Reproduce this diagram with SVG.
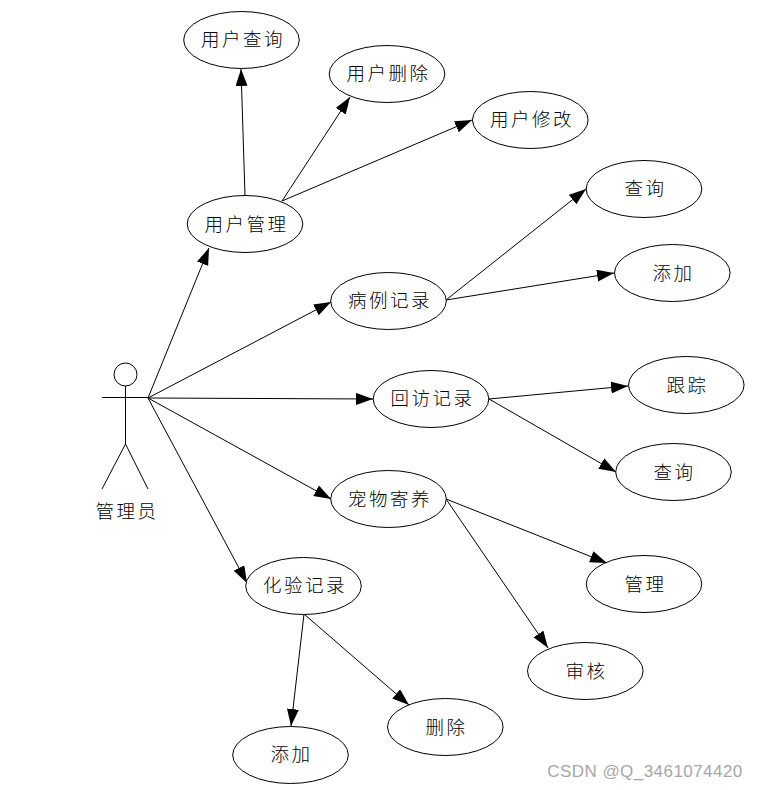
<svg xmlns="http://www.w3.org/2000/svg" width="758" height="790" viewBox="0 0 758 790">
<style>
.n ellipse{fill:#fff;stroke:#000;stroke-width:1}
text{font-family:"Noto Sans CJK SC","Liberation Sans",sans-serif;font-size:18.500px;font-weight:300;fill:#000;text-anchor:middle;letter-spacing:2.5px}
.c line{stroke:#000;stroke-width:1;marker-end:url(#a)}
.s line,.s circle{stroke:#000;stroke-width:1;fill:#fff}
.wm{font-family:"Liberation Sans",sans-serif;font-size:17px;font-weight:400;fill:#a6a6a6;letter-spacing:.45px}
</style>
<defs>
<marker id="a" markerUnits="userSpaceOnUse" markerWidth="18" markerHeight="13" refX="17" refY="6" orient="auto"><path d="M0 0L17 6L0 12z" fill="#000"/></marker>
</defs>
<rect width="758" height="790" fill="#fff"/>
<g id="connectors" class="c">
<line x1="148" y1="398" x2="209" y2="248"/>
<line x1="148" y1="398" x2="331" y2="302"/>
<line x1="148" y1="398" x2="373" y2="399"/>
<line x1="148" y1="398" x2="331" y2="499"/>
<line x1="148" y1="398" x2="247" y2="583"/>
<line x1="245" y1="196" x2="241" y2="69"/>
<line x1="282" y1="201" x2="350" y2="97"/>
<line x1="282" y1="201" x2="472" y2="120"/>
<line x1="446" y1="300" x2="586" y2="189"/>
<line x1="446" y1="300" x2="614" y2="273"/>
<line x1="489" y1="399" x2="628" y2="386"/>
<line x1="489" y1="399" x2="616" y2="472"/>
<line x1="446" y1="499" x2="607" y2="563"/>
<line x1="446" y1="499" x2="548" y2="648"/>
<line x1="304" y1="614" x2="291" y2="726"/>
<line x1="304" y1="614" x2="409" y2="705"/>
</g>
<g id="actor" class="s">
<circle cx="125.500" cy="374.500" r="11.500"/>
<line x1="102" y1="397.500" x2="148" y2="397.500"/>
<line x1="125.500" y1="386" x2="125.500" y2="444"/>
<line x1="125.500" y1="444" x2="102" y2="489"/>
<line x1="125.500" y1="444" x2="148" y2="489"/>
<text x="127" y="518">管理员</text>
</g>
<g id="n1" class="n"><ellipse cx="241.500" cy="40" rx="57.800" ry="28.500"/><text x="243" y="46">用户查询</text></g>
<g id="n2" class="n"><ellipse cx="387" cy="74" rx="57.800" ry="28.500"/><text x="388.500" y="80">用户删除</text></g>
<g id="n3" class="n"><ellipse cx="530.300" cy="120" rx="57.800" ry="28.500"/><text x="532" y="126">用户修改</text></g>
<g id="n4" class="n"><ellipse cx="245" cy="224" rx="57.800" ry="28.500"/><text x="246.500" y="231">用户管理</text></g>
<g id="n5" class="n"><ellipse cx="644" cy="189" rx="57.800" ry="28.500"/><text x="645.500" y="195">查询</text></g>
<g id="n6" class="n"><ellipse cx="672.300" cy="273" rx="57.800" ry="28.500"/><text x="673.500" y="280">添加</text></g>
<g id="n7" class="n"><ellipse cx="388.500" cy="301" rx="57.800" ry="28.500"/><text x="390" y="307">病例记录</text></g>
<g id="n8" class="n"><ellipse cx="431" cy="399" rx="57.800" ry="28.500"/><text x="432.500" y="405">回访记录</text></g>
<g id="n9" class="n"><ellipse cx="686.300" cy="385" rx="57.800" ry="28.500"/><text x="687.500" y="392">跟踪</text></g>
<g id="n10" class="n"><ellipse cx="673.500" cy="472" rx="57.800" ry="28.500"/><text x="674.500" y="479">查询</text></g>
<g id="n11" class="n"><ellipse cx="388.500" cy="499" rx="57.800" ry="28.500"/><text x="390" y="506">宠物寄养</text></g>
<g id="n12" class="n"><ellipse cx="644" cy="584" rx="57.800" ry="28.500"/><text x="645.500" y="591">管理</text></g>
<g id="n13" class="n"><ellipse cx="585.300" cy="671" rx="57.800" ry="28.500"/><text x="586.500" y="678">审核</text></g>
<g id="n14" class="n"><ellipse cx="303.500" cy="586" rx="57.800" ry="28.500"/><text x="305" y="592">化验记录</text></g>
<g id="n15" class="n"><ellipse cx="290.500" cy="755" rx="57.800" ry="28.500"/><text x="291.500" y="761">添加</text></g>
<g id="n16" class="n"><ellipse cx="445.300" cy="727" rx="57.800" ry="28.500"/><text x="446.500" y="734">删除</text></g>
<text class="wm" x="645" y="777">CSDN @Q_3461074420</text>
</svg>
